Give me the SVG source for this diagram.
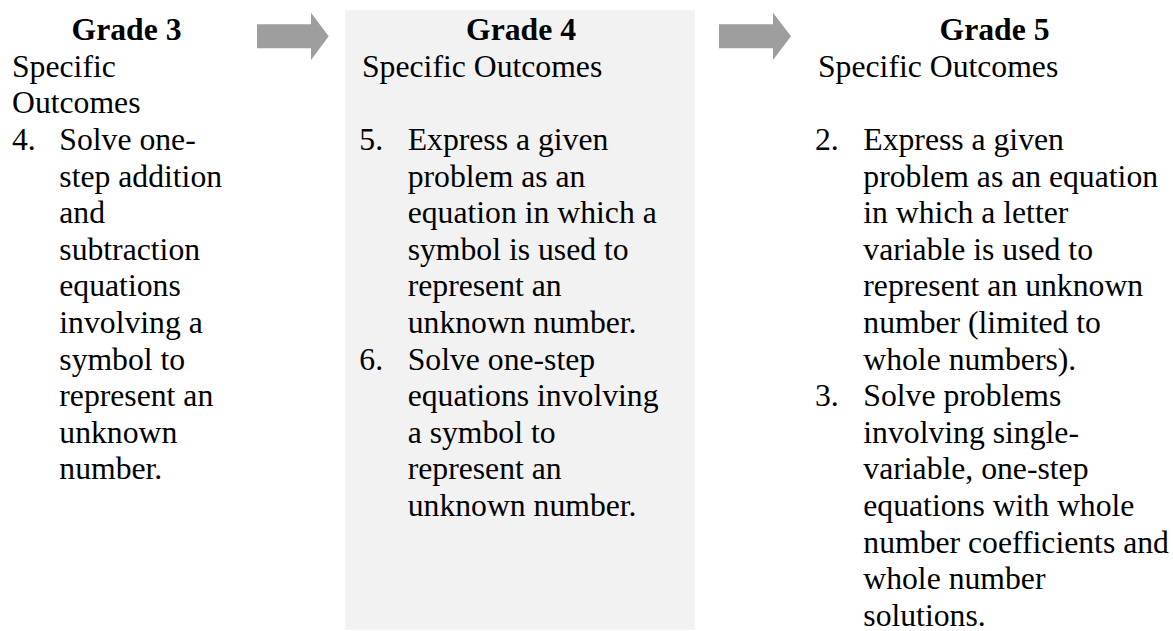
<svg xmlns="http://www.w3.org/2000/svg" width="1173" height="631" viewBox="0 0 1173 631">
<style>
text{font-family:"Liberation Serif","Times New Roman",serif;font-size:31.7px;fill:#000}
.h{font-weight:bold;text-anchor:middle}
.arrow{fill:#9e9e9e}
</style>
<rect width="1173" height="631" fill="#fff"/>
<g id="connectors">
<polygon class="arrow" points="257,24.3 311,24.3 311,12.7 328.7,36.3 311,60 311,48.3 257,48.3"/>
<polygon class="arrow" points="719,24.3 773,24.3 773,12.7 791,36.3 773,60 773,48.3 719,48.3"/>
</g>
<g id="grade3">
<text class="h" x="126.5" y="40.2">Grade 3</text>
<text x="12" y="76.8">Specific</text>
<text x="12" y="113.4">Outcomes</text>
<text x="12" y="150">4.</text>
<text x="59.3" y="150">Solve one-</text>
<text x="59.3" y="186.6">step addition</text>
<text x="59.3" y="223.2">and</text>
<text x="59.3" y="259.8">subtraction</text>
<text x="59.3" y="296.4">equations</text>
<text x="59.3" y="333">involving a</text>
<text x="59.3" y="369.6">symbol to</text>
<text x="59.3" y="406.2">represent an</text>
<text x="59.3" y="442.8">unknown</text>
<text x="59.3" y="479.4">number.</text>
</g>
<g id="grade4">
<rect x="345" y="10" width="350" height="620" fill="#f2f2f2"/>
<text class="h" x="521" y="40.2">Grade 4</text>
<text x="362" y="76.8">Specific Outcomes</text>
<text x="359.3" y="150">5.</text>
<text x="407.7" y="150">Express a given</text>
<text x="407.7" y="186.6">problem as an</text>
<text x="407.7" y="223.2">equation in which a</text>
<text x="407.7" y="259.8">symbol is used to</text>
<text x="407.7" y="296.4">represent an</text>
<text x="407.7" y="333">unknown number.</text>
<text x="359.3" y="369.6">6.</text>
<text x="407.7" y="369.6">Solve one-step</text>
<text x="407.7" y="406.2">equations involving</text>
<text x="407.7" y="442.8">a symbol to</text>
<text x="407.7" y="479.4">represent an</text>
<text x="407.7" y="516">unknown number.</text>
</g>
<g id="grade5">
<text class="h" x="994.5" y="40.2">Grade 5</text>
<text x="818" y="76.8">Specific Outcomes</text>
<text x="815" y="150">2.</text>
<text x="863.3" y="150">Express a given</text>
<text x="863.3" y="186.6">problem as an equation</text>
<text x="863.3" y="223.2">in which a letter</text>
<text x="863.3" y="259.8">variable is used to</text>
<text x="863.3" y="296.4">represent an unknown</text>
<text x="863.3" y="333">number (limited to</text>
<text x="863.3" y="369.6">whole numbers).</text>
<text x="815" y="406.2">3.</text>
<text x="863.3" y="406.2">Solve problems</text>
<text x="863.3" y="442.8">involving single-</text>
<text x="863.3" y="479.4">variable, one-step</text>
<text x="863.3" y="516">equations with whole</text>
<text x="863.3" y="552.6">number coefficients and</text>
<text x="863.3" y="589.2">whole number</text>
<text x="863.3" y="625.8">solutions.</text>
</g>
</svg>
